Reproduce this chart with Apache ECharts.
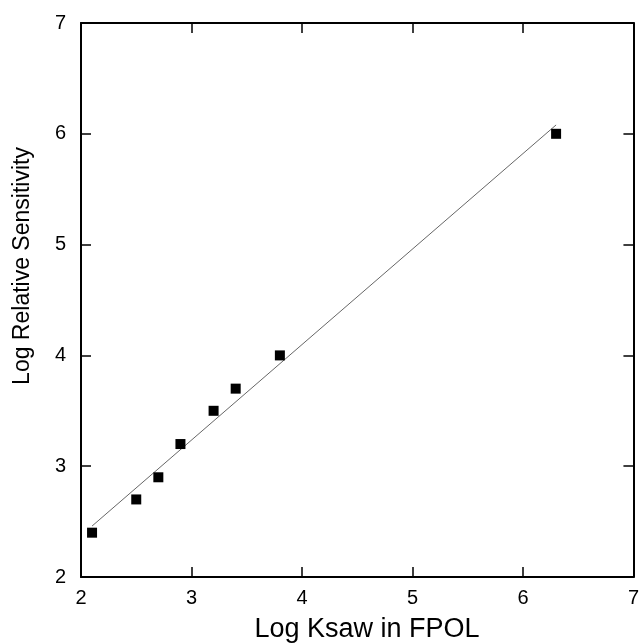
<!DOCTYPE html>
<html>
<head>
<meta charset="utf-8">
<script src="https://cdn.jsdelivr.net/npm/echarts@6/dist/echarts.min.js"></script>
<style>
  html, body { margin: 0; padding: 0; background: #fff; }
  #chart { width: 642px; height: 643px; }
</style>
</head>
<body>
<div id="chart"></div>
<script>
// 数据
const logKsaw = [2.1, 2.5, 2.7, 2.9, 3.2, 3.4, 3.8, 6.3];
const logSens = [2.4, 2.7, 2.9, 3.2, 3.5, 3.7, 4.0, 6.0];
// 拟合直线两端
const fitX = [2.1, 6.3];
const fitY = [2.46, 6.08];

const font = "'Liberation Sans', Arial, Helvetica, sans-serif";

let chart = echarts.init(document.getElementById("chart"));

const axisCommon = {
  type: "value",
  min: 2,
  max: 7,
  interval: 1,
  splitLine: { show: false },
  axisLine: { show: true, onZero: false, lineStyle: { color: "#000", width: 2 } },
  axisTick: { show: true, inside: true, length: 10, lineStyle: { color: "#000", width: 1.5 } },
};

const option = {
  animation: false,
  grid: { left: 81, right: 7, top: 23, bottom: 66 },
  xAxis: [
    Object.assign({}, axisCommon, {
      position: "bottom",
      axisLabel: { color: "#000", fontSize: 20, fontFamily: font, margin: 11 },
    }),
    Object.assign({}, axisCommon, {
      position: "top",
      axisLabel: { show: false },
    }),
  ],
  yAxis: [
    Object.assign({}, axisCommon, {
      position: "left",
      axisLabel: { color: "#000", fontSize: 20, fontFamily: font, margin: 15 },
    }),
    Object.assign({}, axisCommon, {
      position: "right",
      axisLabel: { show: false },
    }),
  ],
  graphic: [
    {
      type: "text",
      x: 367,
      y: 630,
      style: {
        text: "Log Ksaw in FPOL",
        fill: "#000",
        font: "27px " + font,
        align: "center",
        verticalAlign: "middle",
      },
    },
    {
      type: "text",
      x: 23,
      y: 266,
      rotation: Math.PI / 2,
      style: {
        text: "Log Relative Sensitivity",
        fill: "#000",
        font: "23px " + font,
        align: "center",
        verticalAlign: "middle",
      },
    },
  ],
  series: [
    {
      type: "line",
      data: fitX.map((x, i) => [x, fitY[i]]),
      showSymbol: false,
      symbol: "none",
      lineStyle: { color: "#666", width: 1 },
      z: 2,
    },
    {
      type: "scatter",
      data: logKsaw.map((x, i) => [x, logSens[i]]),
      symbol: "rect",
      symbolSize: 10,
      itemStyle: { color: "#000", opacity: 1 },
      z: 3,
    },
  ],
};

chart.setOption(option);
</script>
</body>
</html>
